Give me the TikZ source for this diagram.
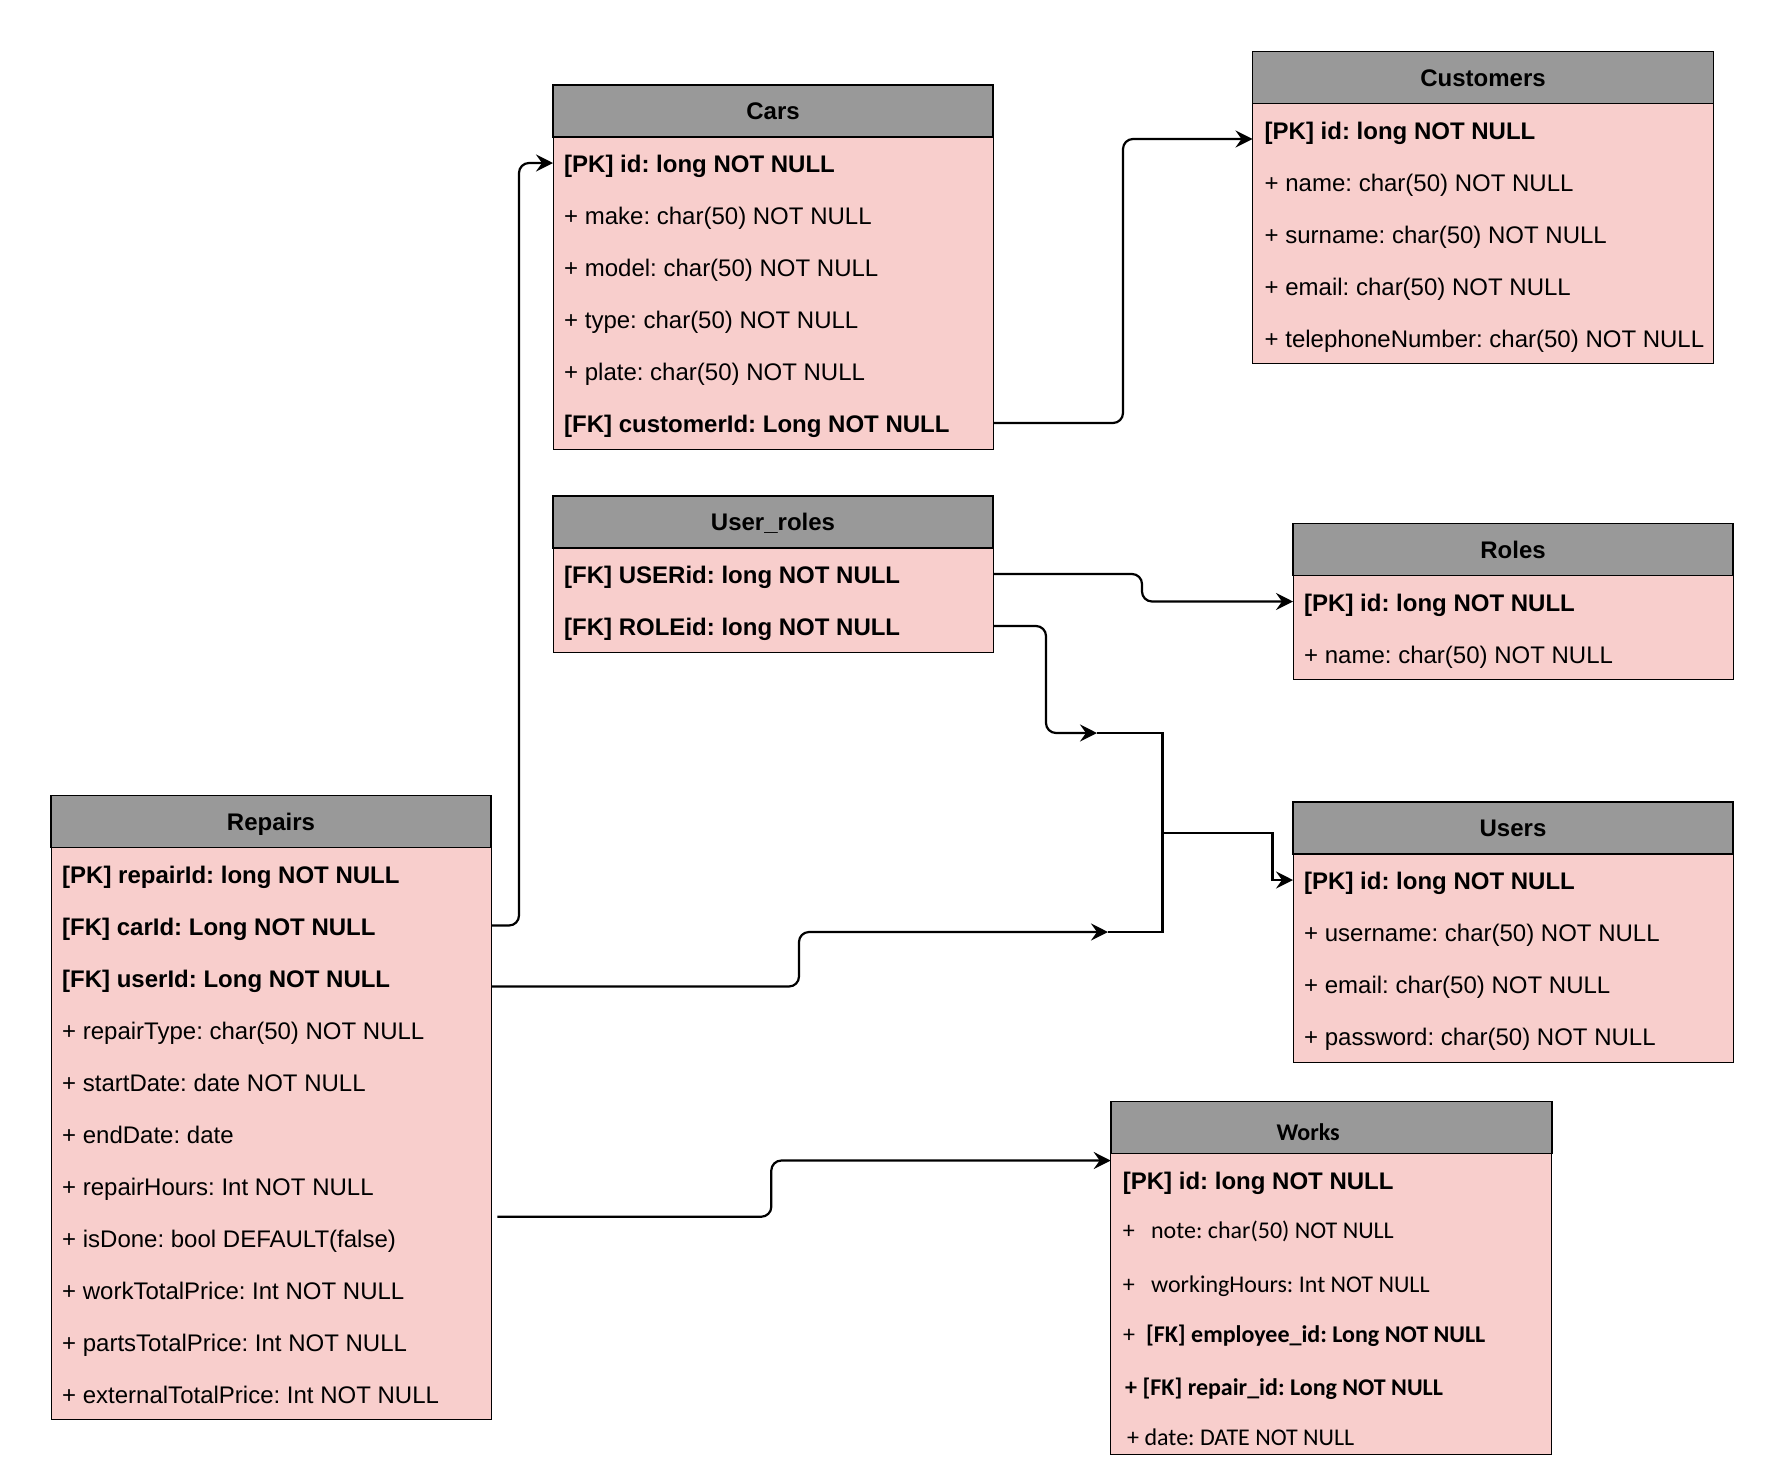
\documentclass[tikz,border=0pt]{standalone}
\usepackage{fontspec}
\setmainfont{Liberation Sans}
\newfontfamily\calibri{Carlito}
\usetikzlibrary{positioning,calc,arrows.meta}
\definecolor{headgray}{HTML}{999999}
\definecolor{rowpink}{HTML}{F8CECC}
\frenchspacing
\tikzset{
  head/.style={draw, line width=1.6pt, fill=headgray, minimum width=440pt, minimum height=52pt,
    inner sep=0pt, outer sep=0pt, text height=17pt, text depth=0pt,
    font=\fontsize{24}{28}\selectfont\bfseries},
  tbl/.style={draw, line width=1pt, fill=rowpink, minimum width=440pt, inner sep=0pt, outer sep=0pt},
  attr/.style={anchor=west, inner sep=0pt, text height=19pt, text depth=0pt,
    font=\fontsize{24}{28}\selectfont},
  link/.style={line width=2.2pt, rounded corners=10pt, -{Stealth[length=17pt,width=17pt,inset=6pt]}},
  junc/.style={line width=2.2pt}
}
\begin{document}
\begin{tikzpicture}[x=1pt,y=-1pt]
\path[use as bounding box, fill=white] (0,0) rectangle (1784,1476);

\node[head, anchor=north west] (carsH) at (553,85) {Cars};
\node[tbl, minimum height=312pt, below=0pt of carsH] (cars) {};
\foreach \t [count=\i] in {{\bfseries [PK] id: long NOT NULL},+ make: char(50) NOT NULL,+ model: char(50) NOT NULL,+ type: char(50) NOT NULL,+ plate: char(50) NOT NULL,{\bfseries [FK] customerId: Long NOT NULL}}
  \node[attr] (cars\i) at ($(cars.north west)+(11,{52*\i-26})$) {\t};

\node[head, minimum width=461pt, anchor=north west] (customersH) at (1252.5,51.5) {Customers};
\node[tbl, minimum width=461pt, minimum height=260pt, below=0pt of customersH] (customers) {};
\foreach \t [count=\i] in {{\bfseries [PK] id: long NOT NULL},+ name: char(50) NOT NULL,+ surname: char(50) NOT NULL,+ email: char(50) NOT NULL,+ telephoneNumber: char(50) NOT NULL}
  \node[attr] (customers\i) at ($(customers.north west)+(12,{52*\i-26})$) {\t};

\node[head, anchor=north west] (userrolesH) at (553,496) {User\_roles};
\node[tbl, minimum height=104pt, below=0pt of userrolesH] (userroles) {};
\foreach \t [count=\i] in {{\bfseries [FK] USERid: long NOT NULL},{\bfseries [FK] ROLEid: long NOT NULL}}
  \node[attr] (userroles\i) at ($(userroles.north west)+(11,{52*\i-26})$) {\t};

\node[head, anchor=north west] (rolesH) at (1293,523.5) {Roles};
\node[tbl, minimum height=104pt, below=0pt of rolesH] (roles) {};
\foreach \t [count=\i] in {{\bfseries [PK] id: long NOT NULL},+ name: char(50) NOT NULL}
  \node[attr] (roles\i) at ($(roles.north west)+(11,{52*\i-26})$) {\t};

\node[head, anchor=north west] (usersH) at (1293,802) {Users};
\node[tbl, minimum height=208pt, below=0pt of usersH] (users) {};
\foreach \t [count=\i] in {{\bfseries [PK] id: long NOT NULL},+ username: char(50) NOT NULL,+ email: char(50) NOT NULL,+ password: char(50) NOT NULL}
  \node[attr] (users\i) at ($(users.north west)+(11,{52*\i-26})$) {\t};

\node[head, anchor=north west] (repairsH) at (51,795.5) {Repairs};
\node[tbl, minimum height=572pt, below=0pt of repairsH] (repairs) {};
\foreach \t [count=\i] in {{\bfseries [PK] repairId: long NOT NULL},{\bfseries [FK] carId: Long NOT NULL},{\bfseries [FK] userId: Long NOT NULL},+ repairType: char(50) NOT NULL,+ startDate: date NOT NULL,+ endDate: date,+ repairHours: Int NOT NULL,+ isDone: bool DEFAULT(false),+ workTotalPrice: Int NOT NULL,+ partsTotalPrice: Int NOT NULL,+ externalTotalPrice: Int NOT NULL}
  \node[attr] (repairs\i) at ($(repairs.north west)+(11,{52*\i-26})$) {\t};

\node[head, minimum width=441pt, anchor=north west,
  label={[font=\fontsize{24}{28}\selectfont\calibri\bfseries, inner sep=0pt, text height=17pt, text depth=0pt, xshift=-23pt, yshift=-4.5pt]center:Works}] (worksH) at (1110.7,1101.5) {};
\node[tbl, minimum width=441pt, minimum height=301pt, below=0pt of worksH] (works) {};
\node[attr] (works1) at (1122.7,1179.5) {\bfseries [PK] id: long NOT NULL};
\node[attr, font=\fontsize{24}{28}\selectfont\calibri] (works2) at (1122.7,1228.5) {+\ \ \ note: char(50) NOT NULL};
\node[attr, font=\fontsize{24}{28}\selectfont\calibri] (works3) at (1122.7,1283) {+\ \ \ workingHours: Int NOT NULL};
\node[attr, font=\fontsize{24}{28}\selectfont\calibri] (works4) at (1123,1333) {+\ \ {\bfseries [FK] employee\_id: Long NOT NULL}};
\node[attr, font=\fontsize{24}{28}\selectfont\calibri\bfseries] (works5) at (1125,1385.5) {+ [FK] repair\_id: Long NOT NULL};
\node[attr, font=\fontsize{24}{28}\selectfont\calibri] (works6) at (1127,1436) {+ date: DATE NOT NULL};

\coordinate (jA) at (1097,733);
\coordinate (jB) at (1108,932);
\coordinate (jTop) at (1162.5,733);
\coordinate (jMid) at (1162.5,833);
\coordinate (jBot) at (1162.5,932);
\coordinate (rOut) at (497.3,1216.7);

\draw[link] (repairs.east |- repairs2) -- ++(28,0) |- (cars.west |- cars1);
\draw[link] ($(repairs.east |- repairs3)+(0,9)$) -- ++(308,0) |- (jB);
\draw[link] (cars.east |- cars6) -- ++(130,0) |- ($(customers.west |- customers1)+(0,9.5)$);
\draw[link] (userroles.east |- userroles1) -- ++(149,0) |- (roles.west |- roles1);
\draw[link] (userroles.east |- userroles2) -- ++(53,0) |- (jA);
\draw[junc] (jA) -- (jTop) -- (jBot) -- (jB);
\draw[link, sharp corners] (jMid) -- ++(110,0) |- (users.west |- users1);
\draw[link] (rOut) -- ++(274,0) |- ($(works.west |- works1)+(0,-19)$);
\end{tikzpicture}
\end{document}
